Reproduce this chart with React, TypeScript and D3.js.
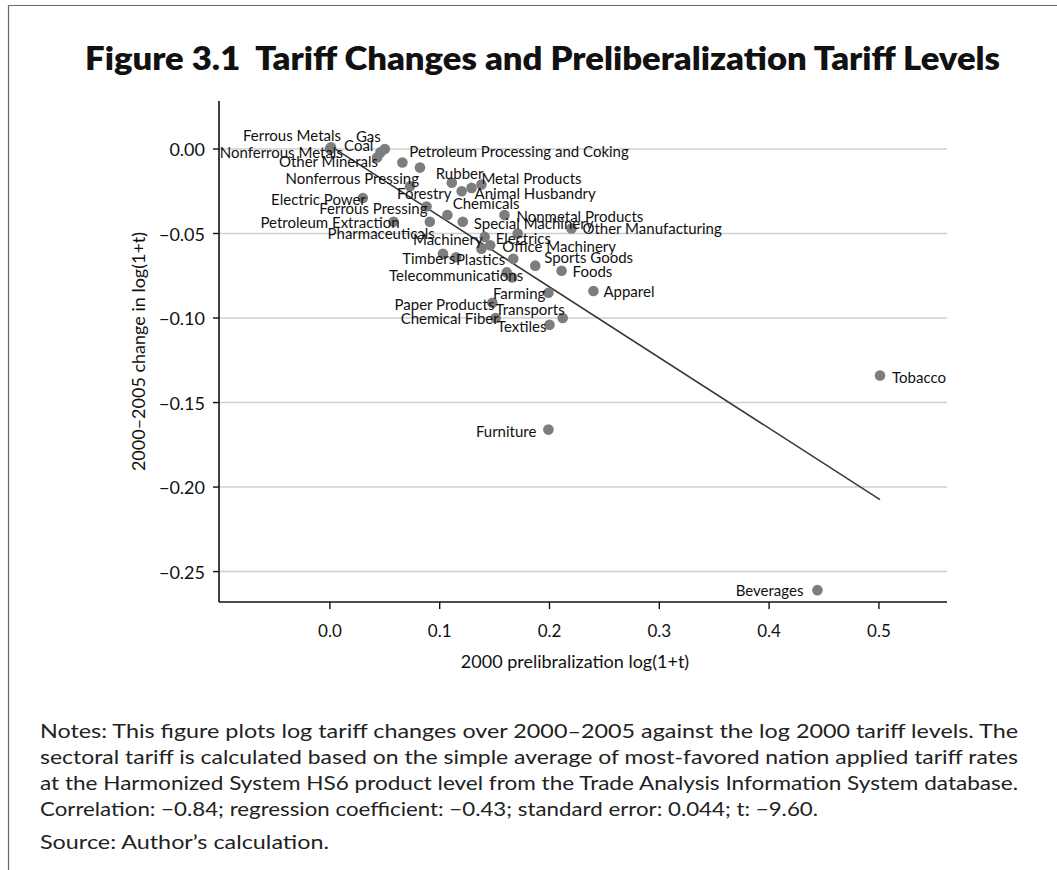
import React from "react";
import * as d3 from "d3";

// Sector names (null = point drawn without a visible label)
const sectors: (string | null)[] = [
  "Nonferrous Metals", "Ferrous Metals", "Gas", "Coal", "Other Minerals",
  "Petroleum Processing and Coking", "Nonferrous Pressing", "Forestry", "Rubber",
  "Chemicals", "Animal Husbandry", "Metal Products", "Electric Power",
  "Ferrous Pressing", null, "Special Machinery", "Nonmetal Products",
  "Petroleum Extraction", "Pharmaceuticals", "Electrics", "Other Manufacturing",
  "Machinery", null, "Office Machinery", null, "Timbers", "Plastics",
  "Sports Goods", "Foods", null, "Telecommunications", "Farming", "Apparel",
  "Paper Products", "Chemical Fiber", "Transports", "Textiles", "Furniture",
  "Tobacco", "Beverages",
];

// 2000 prelibralization log(1+t)
const tariff2000 = [
  0.0, 0.001, 0.05, 0.046, 0.043,
  0.066, 0.082, 0.073, 0.111,
  0.12, 0.129, 0.138, 0.03,
  0.088, 0.107, 0.121, 0.159,
  0.058, 0.091, 0.171, 0.22,
  0.141, 0.138, 0.146, 0.103, 0.115, 0.167,
  0.187, 0.211, 0.161, 0.166, 0.199, 0.24,
  0.148, 0.151, 0.212, 0.2, 0.199,
  0.501, 0.444,
];

// 2000–2005 change in log(1+t)
const tariffChange = [
  0.0, 0.001, 0.0, -0.002, -0.005,
  -0.008, -0.011, -0.022, -0.02,
  -0.025, -0.023, -0.021, -0.029,
  -0.034, -0.039, -0.043, -0.039,
  -0.043, -0.043, -0.05, -0.047,
  -0.052, -0.059, -0.057, -0.062, -0.064, -0.065,
  -0.069, -0.072, -0.073, -0.076, -0.085, -0.084,
  -0.091, -0.1, -0.1, -0.104, -0.166,
  -0.134, -0.261,
];

const xTicks = [0, 0.1, 0.2, 0.3, 0.4, 0.5];
const yTicks = [0, -0.05, -0.1, -0.15, -0.2, -0.25];

// Fitted line drawn over the observed range
const fitIntercept = 0.002;
const fitSlope = -0.418;

const titleText = "Figure 3.1  Tariff Changes and Preliberalization Tariff Levels";
const xTitle = "2000 prelibralization log(1+t)";
const yTitle = "2000–2005 change in log(1+t)";
const noteLines = [
  "Notes: This figure plots log tariff changes over 2000–2005 against the log 2000 tariff levels. The",
  "sectoral tariff is calculated based on the simple average of most-favored nation applied tariff rates",
  "at the Harmonized System HS6 product level from the Trade Analysis Information System database.",
  "Correlation: −0.84; regression coefficient: −0.43; standard error: 0.044; t: −9.60.",
];
const sourceLine = "Source: Author’s calculation.";

// Label placement relative to each marker: [text-anchor, dx, dy]
const labelPos: Record<string, ["start" | "end", number, number]> = {
  "Nonferrous Metals": ["end", 13, 3],
  "Ferrous Metals": ["end", 10, -12],
  Gas: ["end", -4, -13],
  Coal: ["end", -7, -7],
  "Other Minerals": ["end", 1, 4],
  "Petroleum Processing and Coking": ["start", 7, -12],
  "Nonferrous Pressing": ["end", -1, 10],
  Forestry: ["start", -13, 7],
  Rubber: ["start", -16, -10],
  Chemicals: ["start", -9, 12],
  "Animal Husbandry": ["start", 3, 5],
  "Metal Products": ["start", 0, -7],
  "Electric Power": ["end", 3, 1],
  "Ferrous Pressing": ["end", 1, 2],
  "Special Machinery": ["start", 11, 1],
  "Nonmetal Products": ["start", 12, 1],
  "Petroleum Extraction": ["end", 6, 0],
  Pharmaceuticals: ["end", 5, 11],
  Electrics: ["start", -22, 4],
  "Other Manufacturing": ["start", 11, 0],
  Machinery: ["end", -2, 2],
  "Office Machinery": ["start", 12, 1],
  Timbers: ["end", -1, 1],
  Plastics: ["end", -8, 0],
  "Sports Goods": ["start", 9, -9],
  Foods: ["start", 11, 0],
  Telecommunications: ["end", 11, -2],
  Farming: ["end", -3, 0],
  Apparel: ["start", 10, 0],
  "Paper Products": ["end", 2, 1],
  "Chemical Fiber": ["end", 3, 0],
  Transports: ["end", 2, -9],
  Textiles: ["end", -3, 1],
  Furniture: ["end", -12, 1],
  Tobacco: ["start", 12, 1],
  Beverages: ["end", -14, 0],
};

const W = 1057;
const H = 870;
const plot = { left: 219, right: 947, top: 101, bottom: 602 };
const FONT = "Lato, 'Open Sans', sans-serif";

export default function App() {
  const x = d3.scaleLinear().domain([-0.101, 0.562]).range([plot.left, plot.right]);
  const y = d3.scaleLinear().domain([0.0284, -0.268]).range([plot.top, plot.bottom]);
  const yFmt = d3.format(".2f");
  const xFmt = d3.format(".1f");

  const xs = d3.extent(tariff2000) as [number, number];
  const fitLine = d3
    .line<number>()
    .x((v) => x(v))
    .y((v) => y(fitIntercept + fitSlope * v))(xs);

  const points = tariff2000.map((v, i) => ({ x: v, y: tariffChange[i], name: sectors[i] }));

  return (
    <svg
      width={W}
      height={H}
      style={{ position: "absolute", left: 0, top: 0, background: "#fff" }}
      fontFamily={FONT}
    >
      <rect width={W} height={H} fill="#fff" />
      {/* outer frame */}
      <line x1={8.5} y1={5.5} x2={W} y2={5.5} stroke="#666" strokeWidth={1.2} />
      <line x1={8.5} y1={5.5} x2={8.5} y2={H} stroke="#666" strokeWidth={1.2} />

      <text
        x={85}
        y={70}
        fontSize={32}
        fontWeight={800}
        fill="#111"
        textLength={915}
        lengthAdjust="spacingAndGlyphs"
        style={{ whiteSpace: "pre" }}
      >
        {titleText}
      </text>

      {/* gridlines */}
      {yTicks.map((t) => (
        <line key={"g" + t} x1={plot.left} x2={plot.right} y1={y(t)} y2={y(t)} stroke="#cfcfcf" strokeWidth={1.5} />
      ))}

      {/* regression line */}
      <path d={fitLine ?? ""} fill="none" stroke="#3a3a3a" strokeWidth={1.6} />

      {/* markers */}
      {points.map((p, i) => (
        <circle key={"c" + i} cx={x(p.x)} cy={y(p.y)} r={5.3} fill="#7d7d7d" />
      ))}

      {/* marker labels */}
      {points.map((p, i) => {
        if (!p.name) return null;
        const [anchor, dx, dy] = labelPos[p.name] ?? ["start", 10, 0];
        return (
          <text
            key={"l" + i}
            x={x(p.x) + dx}
            y={y(p.y) + dy}
            textAnchor={anchor}
            dominantBaseline="central"
            fontSize={15}
            fill="#111"
          >
            {p.name}
          </text>
        );
      })}

      {/* axes */}
      <line x1={plot.left} x2={plot.left} y1={plot.top} y2={plot.bottom} stroke="#111" strokeWidth={1.6} />
      <line x1={plot.left} x2={plot.right} y1={plot.bottom} y2={plot.bottom} stroke="#111" strokeWidth={1.6} />
      {yTicks.map((t) => (
        <g key={"yt" + t}>
          <line x1={plot.left - 6} x2={plot.left} y1={y(t)} y2={y(t)} stroke="#111" strokeWidth={1.4} />
          <text x={205} y={y(t)} textAnchor="end" dominantBaseline="central" fontSize={18} fill="#111">
            {yFmt(t)}
          </text>
        </g>
      ))}
      {xTicks.map((t) => (
        <g key={"xt" + t}>
          <line x1={x(t)} x2={x(t)} y1={plot.bottom} y2={plot.bottom + 7} stroke="#111" strokeWidth={1.4} />
          <text x={x(t)} y={630} textAnchor="middle" dominantBaseline="central" fontSize={17} fill="#111">
            {xFmt(t)}
          </text>
        </g>
      ))}
      <text x={575} y={661} textAnchor="middle" dominantBaseline="central" fontSize={18} fill="#111">
        {xTitle}
      </text>
      <text
        transform={`translate(138,${(plot.top + plot.bottom) / 2}) rotate(-90)`}
        textAnchor="middle"
        dominantBaseline="central"
        fontSize={18}
        fill="#111"
      >
        {yTitle}
      </text>

      {/* notes */}
      {noteLines.map((line, i) => (
        <text
          key={"n" + i}
          x={40}
          y={738 + i * 26}
          fontSize={20}
          fill="#222"
          textLength={i < 3 ? 978 : 778}
          lengthAdjust="spacingAndGlyphs"
        >
          {line}
        </text>
      ))}
      <text x={40} y={849} fontSize={20} fill="#222" textLength={289} lengthAdjust="spacingAndGlyphs">
        {sourceLine}
      </text>
    </svg>
  );
}
